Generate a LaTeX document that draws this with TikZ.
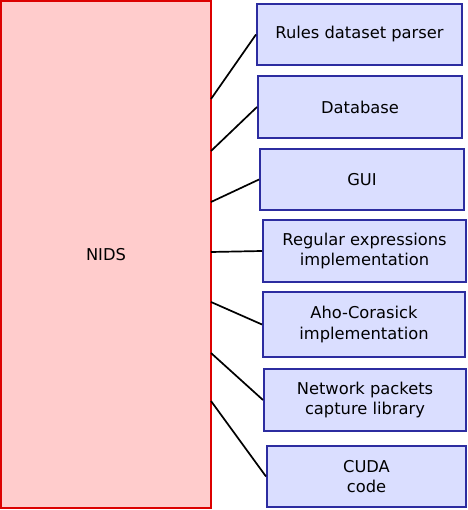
\documentclass[tikz,border=0pt]{standalone}
\usepackage{fontspec}
\setmainfont{DejaVu Sans}
\usetikzlibrary{calc}

\definecolor{nidsfill}{RGB}{255,204,204}
\definecolor{nidsline}{RGB}{220,0,0}
\definecolor{partfill}{RGB}{218,222,255}
\definecolor{partline}{RGB}{44,44,160}

\tikzset{
  module/.style={draw=nidsline, fill=nidsfill, line width=2pt, inner sep=0pt,
    font=\fontsize{16.3}{20.5}\selectfont},
  part/.style={draw=partline, fill=partfill, line width=2pt, inner sep=0pt,
    align=center, font=\fontsize{16.3}{20.5}\selectfont},
  link/.style={line width=1.7pt}
}

\begin{document}
\begin{tikzpicture}[x=1pt,y=-1pt]
    \useasboundingbox (0,0) rectangle (467,510);

    \node [module, minimum width=210pt, minimum height=507pt] (nids) at (106,254.5) {NIDS};

    \node [part, minimum width=205pt, minimum height=61pt] (rules) at (359.5,34.5) {Rules dataset parser};
    \node [part, minimum width=204pt, minimum height=62pt] (db) at (360,107) {Database};
    \node [part, minimum width=204pt, minimum height=61pt] (gui) at (362,179.5) {GUI};
    \node [part, minimum width=203pt, minimum height=62pt] (regex) at (364.5,251) {Regular expressions\\implementation};
    \node [part, minimum width=202pt, minimum height=65pt] (aho) at (364,324.5) {Aho-Corasick\\implementation};
    \node [part, minimum width=202pt, minimum height=62pt] (pcap) at (365,400) {Network packets\\capture library};
    \node [part, minimum width=199pt, minimum height=61pt] (cuda) at (366.5,476.5) {CUDA\\code};

    % points on the right side of the NIDS box
    \coordinate (p1) at (211,99);
    \coordinate (p2) at (211,151);
    \coordinate (p3) at (211,202);
    \coordinate (p4) at (211,252);
    \coordinate (p5) at (211,302);
    \coordinate (p6) at (211,353);
    \coordinate (p7) at (211,401);

    \draw [link] (p1) -- (rules.west);
    \draw [link] (p2) -- (db.west);
    \draw [link] (p3) -- (gui.west);
    \draw [link] (p4) -- (regex.west);
    \draw [link] (p5) -- (aho.west);
    \draw [link] (p6) -- (pcap.west);
    \draw [link] (p7) -- (cuda.west);
\end{tikzpicture}
\end{document}
